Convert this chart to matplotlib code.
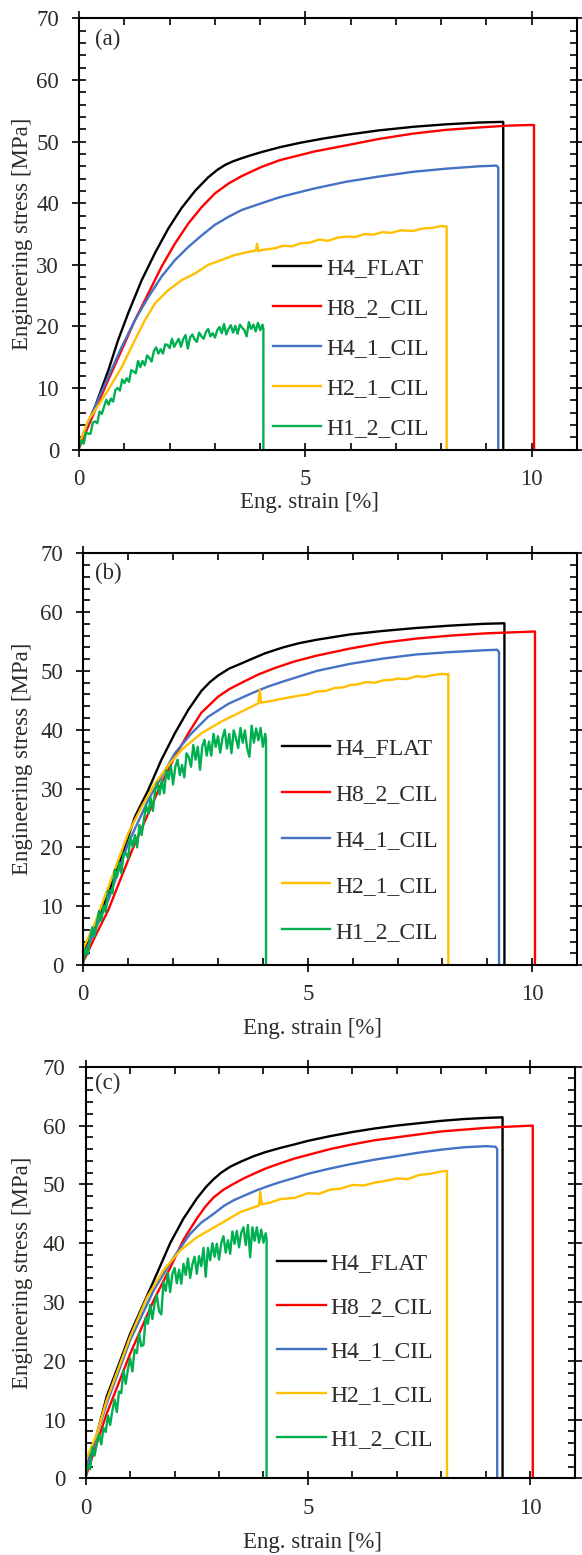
import matplotlib
matplotlib.use("Agg")
import matplotlib.pyplot as plt
from matplotlib.ticker import MultipleLocator

plt.rcParams['font.family'] = ['Liberation Serif', 'DejaVu Serif']
TXT = '#2e2a26'

labels = ['H4_FLAT', 'H8_2_CIL', 'H4_1_CIL', 'H2_1_CIL', 'H1_2_CIL']
colors = ['#000000', '#ff0000', '#4472c4', '#ffc000', '#00b050']

# strain grid of the noisy H1_2_CIL records (read every 0.05 %)
h1_x = [0.00, 0.05, 0.10, 0.15, 0.20, 0.25, 0.30, 0.35, 0.40, 0.45, 0.50, 0.55, 0.60, 0.65, 0.70, 0.75, 0.80, 0.85,
        0.90, 0.95, 1.00, 1.05, 1.10, 1.15, 1.20, 1.25, 1.30, 1.35, 1.40, 1.45, 1.50, 1.55, 1.60, 1.65, 1.70, 1.75,
        1.80, 1.85, 1.90, 1.95, 2.00, 2.05, 2.10, 2.15, 2.20, 2.25, 2.30, 2.35, 2.40, 2.45, 2.50, 2.55, 2.60, 2.65,
        2.70, 2.75, 2.80, 2.85, 2.90, 2.95, 3.00, 3.05, 3.10, 3.15, 3.20, 3.25, 3.30, 3.35, 3.40, 3.45, 3.50, 3.55,
        3.60, 3.65, 3.70, 3.75, 3.80, 3.85, 3.90, 3.95, 4.00, 4.05, 4.07, 4.07]

# ---------------- panel (a) ----------------
a_flat_x = [0, 0.35, 0.64, 0.86, 1.09, 1.38, 1.68, 1.97, 2.26, 2.56, 2.85, 3.05, 3.22, 3.4, 3.59, 3.8, 4.03, 4.44, 4.88, 5.4, 5.91, 6.6, 7.38, 8.1, 8.85, 9.37, 9.37]
a_flat_y = [0.8, 7.0, 12.8, 17.8, 22.3, 27.5, 32.0, 35.9, 39.2, 42.0, 44.2, 45.4, 46.2, 46.8, 47.3, 47.8, 48.3, 49.1, 49.8, 50.5, 51.1, 51.8, 52.4, 52.8, 53.1, 53.2, 0]
a_h8_x = [0, 0.35, 0.64, 0.94, 1.23, 1.53, 1.82, 2.12, 2.41, 2.71, 3.0, 3.3, 3.59, 4.03, 4.44, 5.2, 5.91, 6.6, 7.38, 8.1, 8.85, 9.5, 10.05, 10.05]
a_h8_y = [0.3, 6.4, 11.3, 16.2, 21.0, 25.4, 29.7, 33.5, 36.7, 39.4, 41.6, 43.2, 44.4, 45.9, 47.0, 48.4, 49.4, 50.4, 51.3, 51.9, 52.3, 52.6, 52.7, 0]
a_h4_x = [0, 0.35, 0.64, 0.94, 1.23, 1.53, 1.82, 2.12, 2.41, 2.71, 3.0, 3.3, 3.59, 4.03, 4.44, 5.2, 5.91, 6.6, 7.38, 8.1, 8.85, 9.22, 9.26, 9.26]
a_h4_y = [1.0, 7.0, 11.8, 16.7, 21.0, 24.8, 28.1, 30.8, 32.9, 34.8, 36.5, 37.8, 38.9, 40.0, 41.0, 42.4, 43.5, 44.3, 45.1, 45.6, 46.0, 46.1, 45.8, 0]
a_h2_x = [0, 0.2, 0.35, 0.64, 0.94, 1.23, 1.45, 1.68, 1.97, 2.26, 2.56, 2.85, 3.15, 3.44, 3.74, 3.9, 3.93, 3.96, 4.03, 4.33, 4.5, 4.7, 4.9, 5.1, 5.3,
          5.5, 5.7, 5.91, 6.1, 6.3, 6.5, 6.7, 6.9, 7.1, 7.38, 7.6, 7.8, 8.0, 8.12, 8.12]
a_h2_y = [0.9, 4.8, 6.4, 9.7, 13.4, 17.8, 21.0, 23.8, 25.9, 27.5, 28.6, 30.0, 30.8, 31.6, 32.1, 32.3, 33.4, 32.2, 32.4, 32.7, 33.1, 33.0, 33.5, 33.6, 34.1,
          33.9, 34.4, 34.6, 34.5, 35.0, 34.9, 35.3, 35.2, 35.6, 35.5, 35.9, 36.0, 36.3, 36.2, 0]
a_h1_y = [0.4, 1.5, 1.0, 2.8, 2.6, 2.6, 4.4, 4.6, 4.3, 6.2, 5.8, 7.0, 8.1, 7.3, 8.3, 7.8, 9.7, 10.0,
          9.6, 11.4, 10.8, 11.6, 11.0, 12.9, 12.7, 12.4, 14.4, 13.4, 14.4, 13.7, 15.3, 14.9, 14.3, 16.0, 16.6, 15.6,
          16.3, 15.6, 17.1, 17.0, 16.5, 18.0, 16.7, 17.4, 18.0, 16.7, 18.0, 18.6, 16.4, 18.2, 18.7, 17.9, 17.5, 19.0,
          18.4, 18.0, 19.1, 19.6, 18.4, 18.9, 18.2, 19.4, 19.9, 18.9, 20.4, 18.7, 19.6, 20.2, 19.0, 20.1, 18.8, 20.3,
          19.8, 19.4, 18.4, 20.7, 19.6, 20.3, 19.2, 20.6, 19.4, 20.3, 19.5, 0.0]

# ---------------- panel (b) ----------------
b_flat_x = [0, 0.56, 1.0, 1.15, 1.45, 1.74, 2.04, 2.34, 2.63, 2.82, 3.0, 3.25, 3.53, 3.71, 4.05, 4.45, 4.8, 5.2, 5.94, 6.68, 7.42, 8.17, 8.9, 9.38, 9.38]
b_flat_y = [2.3, 12.2, 21.8, 25.2, 29.8, 34.9, 39.4, 43.4, 46.6, 48.1, 49.2, 50.4, 51.3, 51.9, 53.0, 54.0, 54.7, 55.3, 56.2, 56.8, 57.3, 57.7, 58.0, 58.1, 0]
b_h8_x = [0, 0.26, 0.56, 0.85, 1.15, 1.45, 1.74, 2.04, 2.34, 2.63, 3.0, 3.25, 3.53, 3.9, 4.27, 4.7, 5.2, 5.94, 6.68, 7.42, 8.17, 9.0, 10.06, 10.06]
b_h8_y = [0.6, 4.8, 9.4, 15.0, 20.7, 25.8, 30.9, 35.4, 39.4, 42.9, 45.6, 46.9, 48.0, 49.4, 50.5, 51.6, 52.6, 53.8, 54.8, 55.5, 56.0, 56.4, 56.7, 0]
b_h4_x = [0, 0.56, 1.0, 1.45, 1.74, 2.04, 2.41, 2.78, 3.23, 3.75, 4.1, 4.45, 5.2, 5.94, 6.68, 7.42, 8.17, 8.9, 9.22, 9.26, 9.26]
b_h4_y = [1.4, 11.1, 20.7, 28.1, 32.0, 36.0, 39.4, 42.2, 44.4, 46.2, 47.3, 48.2, 50.0, 51.2, 52.1, 52.8, 53.2, 53.5, 53.6, 53.2, 0]
b_h2_x = [0, 0.26, 0.56, 1.0, 1.3, 1.6, 1.9, 2.19, 2.63, 3.08, 3.53, 3.9, 3.93, 3.96, 4.2, 4.45, 4.8, 5.0, 5.2, 5.4, 5.6, 5.8, 5.94, 6.1, 6.3,
          6.5, 6.68, 6.9, 7.0, 7.2, 7.42, 7.6, 7.8, 8.0, 8.1, 8.13, 8.13]
b_h2_y = [2.8, 7.1, 13.3, 22.4, 26.9, 30.9, 34.0, 36.6, 39.4, 41.4, 43.1, 44.5, 46.8, 44.6, 44.9, 45.3, 45.8, 46.0, 46.5, 46.6, 47.1, 47.2, 47.6, 47.7, 48.1,
          48.0, 48.4, 48.5, 48.7, 48.6, 49.1, 49.0, 49.3, 49.5, 49.4, 49.5, 0]
b_h1_y = [0.4, 2.8, 1.8, 4.7, 6.4, 4.9, 7.0, 9.2, 7.5, 10.1, 9.0, 12.6, 12.7, 12.2, 16.2, 15.0, 17.4, 15.6,
          19.1, 19.0, 18.1, 21.8, 20.1, 22.1, 20.0, 23.8, 22.1, 24.7, 27.1, 25.7, 28.4, 26.2, 29.7, 31.0, 29.0, 31.4,
          29.2, 33.1, 31.6, 33.9, 30.7, 33.7, 34.9, 32.3, 34.0, 31.9, 36.0, 35.3, 33.7, 37.4, 34.9, 37.1, 33.2, 37.2,
          38.3, 35.6, 38.0, 35.6, 39.3, 37.1, 38.9, 36.1, 38.6, 40.0, 36.8, 39.3, 36.0, 39.9, 38.6, 36.9, 40.3, 37.8,
          39.9, 36.8, 35.4, 40.7, 37.8, 40.2, 38.2, 40.3, 37.1, 39.3, 38.4, 0.0]

# ---------------- panel (c) ----------------
c_flat_x = [0, 0.25, 0.47, 0.75, 1.0, 1.3, 1.6, 1.9, 2.2, 2.5, 2.7, 2.88, 3.05, 3.25, 3.5, 3.78, 4.05, 4.38, 4.7, 5.0, 5.5, 6.0, 6.5, 7.0, 7.5, 8.0, 8.5, 9.0, 9.38, 9.38]
c_flat_y = [1.5, 7.5, 13.9, 19.5, 24.6, 29.7, 34.8, 40.0, 44.2, 47.6, 49.5, 50.9, 52.0, 53.0, 53.9, 54.8, 55.5, 56.2, 56.8, 57.4, 58.2, 58.9, 59.5, 60.0, 60.4, 60.8, 61.1, 61.3, 61.4, 0]
c_h8_x = [0, 0.47, 1.0, 1.53, 1.9, 2.2, 2.5, 2.7, 2.88, 3.1, 3.33, 3.55, 3.78, 4.05, 4.38, 4.7, 5.0, 5.5, 6.0, 6.5, 7.0, 7.5, 8.0, 8.5, 9.0, 9.5, 10.06, 10.06]
c_h8_y = [0.3, 11.0, 21.2, 30.3, 35.8, 40.6, 44.2, 46.3, 47.8, 49.1, 50.1, 51.0, 51.8, 52.7, 53.6, 54.4, 55.0, 56.0, 56.8, 57.5, 58.0, 58.5, 59.0, 59.3, 59.6, 59.8, 60.0, 0]
c_h4_x = [0, 0.47, 1.0, 1.53, 1.98, 2.35, 2.6, 2.88, 3.1, 3.33, 3.6, 3.85, 4.1, 4.38, 4.7, 5.0, 5.5, 6.0, 6.5, 7.0, 7.5, 8.0, 8.5, 9.0, 9.22, 9.26, 9.26]
c_h4_y = [1.5, 12.7, 23.5, 32.0, 37.6, 41.6, 43.5, 45.0, 46.3, 47.3, 48.2, 49.0, 49.7, 50.4, 51.1, 51.8, 52.7, 53.5, 54.2, 54.8, 55.4, 55.9, 56.3, 56.5, 56.4, 56.0, 0]
c_h2_x = [0, 0.25, 0.47, 1.0, 1.38, 1.75, 2.13, 2.5, 3.03, 3.48, 3.9, 3.93, 3.96, 4.15, 4.38, 4.7, 5.0, 5.25, 5.5, 5.75, 6.0, 6.25, 6.5, 6.75, 7.0, 7.25,
          7.5, 7.75, 8.0, 8.13, 8.13]
c_h2_y = [3.1, 7.6, 13.3, 24.1, 30.8, 35.4, 38.8, 41.0, 43.3, 45.3, 46.4, 48.8, 46.6, 46.9, 47.5, 47.7, 48.5, 48.4, 49.1, 49.3, 49.9, 49.8, 50.3, 50.6, 51.0, 50.9,
          51.6, 51.8, 52.2, 52.3, 0]
c_h1_y = [0.3, 2.4, 1.6, 5.3, 3.9, 6.0, 7.5, 5.8, 8.6, 7.9, 10.7, 9.1, 11.6, 13.4, 11.3, 14.8, 14.5, 18.4,
          16.1, 18.6, 20.4, 18.2, 21.9, 21.3, 24.7, 22.5, 22.7, 27.4, 26.3, 29.5, 27.1, 29.8, 31.2, 28.4, 27.9, 33.3,
          31.9, 34.9, 31.7, 34.8, 35.8, 33.2, 35.5, 33.1, 36.5, 34.6, 37.4, 34.1, 36.4, 37.7, 34.8, 37.8, 36.1, 39.2,
          34.3, 39.2, 37.1, 40.0, 37.7, 39.9, 37.2, 40.0, 41.2, 38.4, 40.5, 38.2, 42.0, 39.9, 42.1, 39.3, 41.8, 42.7,
          39.7, 43.1, 37.6, 42.7, 40.4, 42.7, 40.1, 42.3, 40.1, 41.7, 40.6, 0.0]

panels = [
    dict(tag='(a)', rect=[0.1361, 0.7108, 0.8553, 0.2774],
         curves=[(a_flat_x, a_flat_y), (a_h8_x, a_h8_y), (a_h4_x, a_h4_y), (a_h2_x, a_h2_y), (h1_x, a_h1_y)],
         leg=(0.389, 0.235), ls=0.78, xlab_y=-0.1358, ylab_x=-0.0922, tag_xy=(0.032, 0.95)),
    dict(tag='(b)', rect=[0.1431, 0.3794, 0.8486, 0.2648],
         curves=[(b_flat_x, b_flat_y), (b_h8_x, b_h8_y), (b_h4_x, b_h4_y), (b_h2_x, b_h2_y), (h1_x, b_h1_y)],
         leg=(0.402, 0.3034), ls=1.03, xlab_y=-0.168, ylab_x=-0.1012, tag_xy=(0.024, 0.95)),
    dict(tag='(c)', rect=[0.1473, 0.0492, 0.8399, 0.2648],
         curves=[(c_flat_x, c_flat_y), (c_h8_x, c_h8_y), (c_h4_x, c_h4_y), (c_h2_x, c_h2_y), (h1_x, c_h1_y)],
         leg=(0.392, 0.309), ls=0.95, xlab_y=-0.170, ylab_x=-0.1072, tag_xy=(0.019, 0.96)),
]

fig = plt.figure(figsize=(5.82, 15.55), dpi=100)

for p in panels:
    ax = fig.add_axes(p['rect'])
    for (x, y), lab, col in zip(p['curves'], labels, colors):
        ax.plot(x, y, color=col, lw=1.7, label=lab)
    ax.set_xlim(0, 11)
    ax.set_ylim(0, 70)
    ax.xaxis.set_major_locator(MultipleLocator(5))
    ax.xaxis.set_minor_locator(MultipleLocator(1))
    ax.yaxis.set_major_locator(MultipleLocator(10))
    ax.yaxis.set_minor_locator(MultipleLocator(2))
    ax.tick_params(which='major', direction='inout', length=10, width=1.2, top=True, right=True,
                   labelsize=16.5, labelcolor=TXT)
    ax.tick_params(which='minor', direction='in', length=5, width=1.2, top=True, right=True)
    ax.tick_params(axis='x', which='major', pad=9)
    ax.tick_params(axis='y', which='major', pad=9.5)
    for sp in ax.spines.values():
        sp.set_linewidth(1.5)
    ax.set_xlabel('Eng. strain [%]', fontsize=16.5, color=TXT)
    ax.xaxis.set_label_coords(0.4636, p['xlab_y'])
    ax.xaxis.label.set_verticalalignment('baseline')
    ax.set_ylabel('Engineering stress [MPa]', fontsize=16.5, color=TXT)
    ax.yaxis.set_label_coords(p['ylab_x'], 0.5)
    ax.text(p['tag_xy'][0], p['tag_xy'][1], p['tag'], transform=ax.transAxes, fontsize=16.5,
            color=TXT, ha='left', va='center')
    ax.legend(loc='center left', bbox_to_anchor=p['leg'], frameon=False, fontsize=17,
              borderpad=0, borderaxespad=0, handlelength=2.05, handletextpad=0.2,
              labelspacing=p['ls'], labelcolor=TXT)

fig.savefig('out.png', dpi=100)
